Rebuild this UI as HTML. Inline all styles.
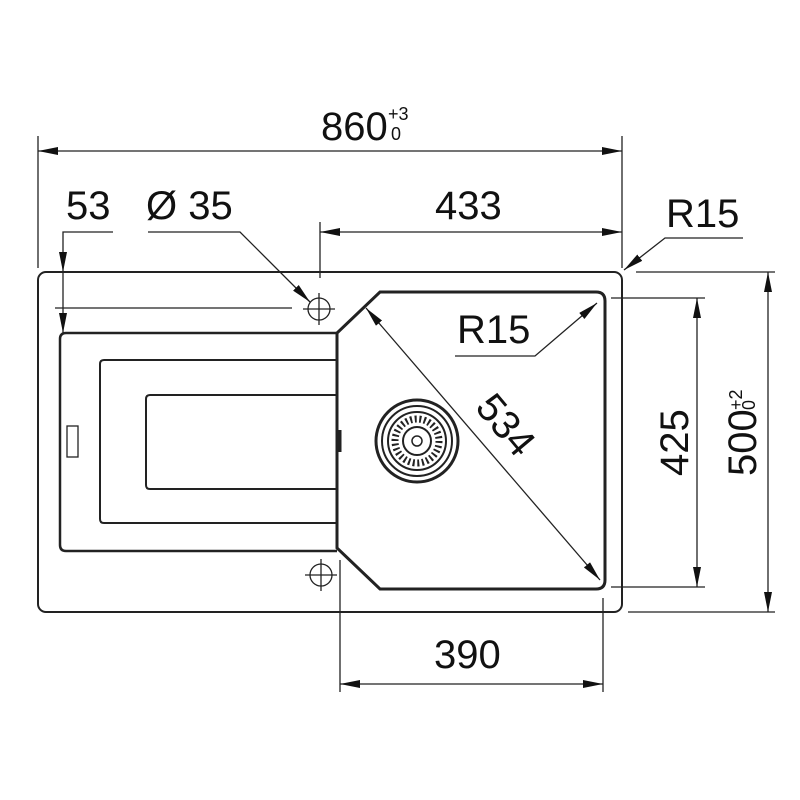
<!DOCTYPE html>
<html><head><style>html,body{margin:0;padding:0;background:#fff}svg{display:block}</style></head>
<body>
<svg width="800" height="800" viewBox="0 0 800 800" xmlns="http://www.w3.org/2000/svg">
<defs>
<marker id="a" viewBox="0 0 20 8" refX="20" refY="4" markerWidth="20" markerHeight="8" markerUnits="userSpaceOnUse" orient="auto-start-reverse"><path d="M0,0 L20,4 L0,8 Z" fill="#111"/></marker>
</defs>
<g fill="none" stroke="#222" stroke-width="1.3">
<line x1="38" y1="136" x2="38" y2="268"/>
<line x1="622" y1="136" x2="622" y2="268"/>
<line x1="320" y1="222" x2="320" y2="278"/>
<line x1="340" y1="560" x2="340" y2="692"/>
<line x1="603" y1="598" x2="603" y2="692"/>
<line x1="636" y1="272" x2="775" y2="272"/>
<line x1="628" y1="612" x2="775" y2="612"/>
<line x1="611" y1="298" x2="705" y2="298"/>
<line x1="611" y1="587" x2="705" y2="587"/>
<line x1="38" y1="151" x2="622" y2="151" marker-start="url(#a)" marker-end="url(#a)"/>
<line x1="320" y1="232" x2="622" y2="232" marker-start="url(#a)" marker-end="url(#a)"/>
<line x1="340" y1="684" x2="603" y2="684" marker-start="url(#a)" marker-end="url(#a)"/>
<line x1="697" y1="298" x2="697" y2="587" marker-start="url(#a)" marker-end="url(#a)"/>
<line x1="768" y1="272" x2="768" y2="612" marker-start="url(#a)" marker-end="url(#a)"/>
<polyline points="113,232 63,232 63,272" marker-end="url(#a)"/>
<line x1="63" y1="272" x2="63" y2="333" marker-end="url(#a)"/>
<line x1="55" y1="308" x2="292" y2="308"/>
<polyline points="148,232 240,232 310,302" marker-end="url(#a)"/>
<polyline points="743,238 665,238 624,270" marker-end="url(#a)"/>
<polyline points="455,356 535,356 597,303" marker-end="url(#a)"/>
<line x1="366" y1="308" x2="600" y2="580" marker-start="url(#a)" marker-end="url(#a)"/>
<rect x="38" y="272" width="584" height="340" rx="8" stroke-width="2"/>
<path d="M380,292 L596,292 Q605,292 605,301 L605,580 Q605,589 596,589 L380,589 L337,548 L337,333 Z" stroke-width="3"/>
<path d="M337,333 L66,333 Q60,333 60,339 L60,545 Q60,551 66,551 L337,551" stroke-width="2.5"/>
<path d="M337,360 L104,360 Q100,360 100,364 L100,519 Q100,523 104,523 L337,523" stroke-width="2"/>
<path d="M337,395 L150,395 Q146,395 146,399 L146,485 Q146,489 150,489 L337,489" stroke-width="2"/>
<rect x="67" y="426" width="11" height="31" stroke-width="1.3"/>
<line x1="340" y1="430" x2="340" y2="452" stroke-width="3"/>
<circle cx="319" cy="309" r="11"/>
<line x1="303" y1="309" x2="335" y2="309"/><line x1="319" y1="293" x2="319" y2="325"/>
<circle cx="321" cy="575" r="11"/>
<line x1="305" y1="575" x2="337" y2="575"/><line x1="321" y1="559" x2="321" y2="591"/>
<circle cx="417" cy="441" r="41" stroke-width="3"/>
<circle cx="417" cy="441" r="35" stroke-width="2"/>
<circle cx="417" cy="441" r="29" stroke-width="2"/>
<circle cx="417" cy="441" r="22" stroke-width="7" stroke-dasharray="2 2.6"/>
<circle cx="417" cy="441" r="14" stroke-width="2"/>
<circle cx="417" cy="441" r="5" stroke-width="1.5"/>
</g>
<g font-family="Liberation Sans, sans-serif" fill="#111" font-size="40">
<text x="321" y="140">860</text>
<text x="388" y="120" font-size="18">+3</text>
<text x="391" y="140" font-size="18">0</text>
<text x="66" y="219">53</text>
<text x="146" y="219">Ø 35</text>
<text x="435" y="219">433</text>
<text x="666" y="227">R15</text>
<text x="457" y="343">R15</text>
<text x="434" y="668">390</text>
<text transform="translate(474,408) rotate(50)">534</text>
<text transform="translate(688,476) rotate(-90)">425</text>
<text transform="translate(756,476) rotate(-90)">500</text>
<text transform="translate(742,410) rotate(-90)" font-size="18">+2</text>
<text transform="translate(755,410) rotate(-90)" font-size="18">0</text>
</g>
</svg>
</body></html>
